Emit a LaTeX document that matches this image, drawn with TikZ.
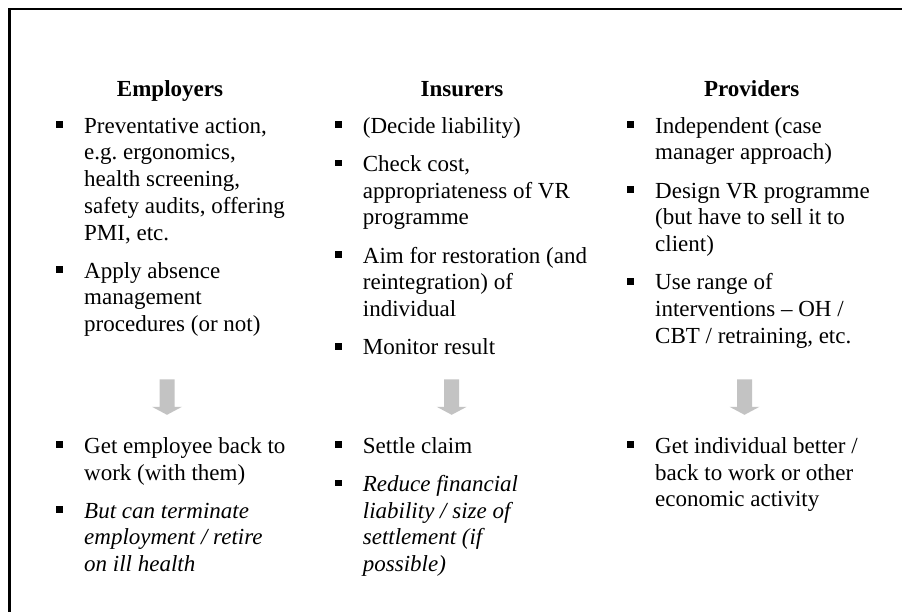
\documentclass[tikz,border=0pt]{standalone}
\usepackage{fontspec}
\setmainfont{Liberation Serif}
\usetikzlibrary{calc}
\frenchspacing
\definecolor{arrowgray}{HTML}{C3C3C3}
\newcommand\bodyfont{\fontsize{23}{26.7}\selectfont}
\newcommand\ml[1]{\vtop{\baselineskip=26.7pt\lineskiplimit=-100pt\lineskip=0pt\halign{##\hfil\cr#1\crcr}}}
\newcommand\bitem[5][]{%
  \node[itm,#1] (#2) at (#3,#4) {\ml{#5}};
  \node[bul] (#2b) at ($(#2.base west)+(-24.5,-8.5)$) {};}
\begin{document}
\begin{tikzpicture}[x=1pt,y=-1pt,
  itm/.style={anchor=base west, inner sep=0pt, font=\bodyfont},
  bul/.style={rectangle, fill=black, draw=none, minimum size=6.8pt, inner sep=0pt},
  hd/.style={anchor=base, inner sep=0pt, font=\bodyfont\bfseries},
  blockarr/.style={fill=arrowgray, draw=none},
  frameline/.style={draw=black, line width=2.3pt, line join=miter}]
\useasboundingbox (0,0) rectangle (902,612);
% frame (top and left edges)
\coordinate (fr) at (902,8.7);
\coordinate (fc) at (9.5,8.7);
\coordinate (fb) at (9.5,612);
\draw[frameline] (fr) -- (fc) -- (fb);
% headings
\node[hd] (hE) at (170,96.5) {Employers};
\node[hd] (hI) at (462,96.5) {Insurers};
\node[hd] (hP) at (751.7,96.5) {Providers};
% Employers
\bitem{e1}{84}{133.3}{Preventative action,\cr e.g. ergonomics,\cr health screening,\cr safety audits, offering\cr PMI, etc.}
\bitem{e2}{84}{278.3}{Apply absence\cr management\cr procedures (or not)}
\bitem{e3}{84}{453.3}{Get employee back to\cr work (with them)}
\bitem[font=\bodyfont\itshape]{e4}{84}{518.2}{But can terminate\cr employment / retire\cr on ill health}
% Insurers
\bitem{i1}{362.7}{133.3}{(Decide liability)}
\bitem{i2}{362.7}{171.5}{Check cost,\cr appropriateness of VR\cr programme}
\bitem{i3}{362.7}{263.1}{Aim for restoration (and\cr reintegration) of\cr individual}
\bitem{i4}{362.7}{354.7}{Monitor result}
\bitem{i5}{362.7}{453.3}{Settle claim}
\bitem[font=\bodyfont\itshape]{i6}{362.7}{491.5}{Reduce financial\cr liability / size of\cr settlement (if\cr possible)}
% Providers
\bitem{p1}{655}{133.3}{Independent (case\cr manager approach)}
\bitem{p2}{655}{198.2}{Design VR programme\cr (but have to sell it to\cr client)}
\bitem{p3}{655}{289.8}{Use range of\cr interventions – OH /\cr CBT / retraining, etc.}
\bitem{p4}{655}{453.3}{Get individual better /\cr back to work or other\cr economic activity}
% block arrows
\coordinate (ea) at (167,379.3);
\coordinate (ia) at (451.7,379.3);
\coordinate (pa) at (744.5,379.3);
\foreach \a in {ea,ia,pa}{
  \fill[blockarr] (\a) ++(-7.5,0) -- ++(15,0) -- ++(0,27.5) -- ++(7.5,0)
    -- ++(-15,8) -- ++(-15,-8) -- ++(7.5,0) -- cycle;
}
\end{tikzpicture}
\end{document}
